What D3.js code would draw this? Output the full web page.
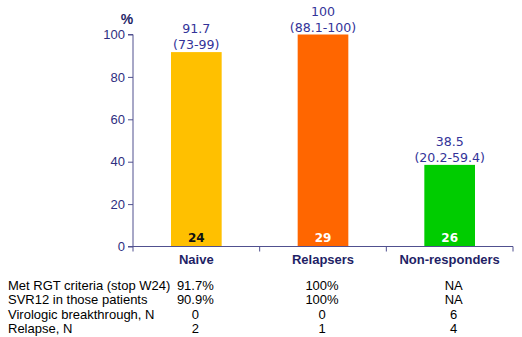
<!DOCTYPE html>
<html><head><meta charset="utf-8">
<script src="https://cdn.jsdelivr.net/npm/d3@7"></script>
<style>body{margin:0;background:#fff}svg{display:block}</style>
</head><body>
<svg id="c" width="522" height="337"></svg>
<script>
const categories = ["Naive", "Relapsers", "Non-responders"];
const values = [91.7, 100, 38.5];
const ciLabels = ["(73-99)", "(88.1-100)", "(20.2-59.4)"];
const valueLabels = ["91.7", "100", "38.5"];
const counts = ["24", "29", "26"];
const colors = ["#FFC000", "#FF6600", "#00CC00"];
const countColors = ["#111111", "#ffffff", "#ffffff"];
const yTicks = [0, 20, 40, 60, 80, 100];
const rowLabels = ["Met RGT criteria (stop W24)", "SVR12 in those patients", "Virologic breakthrough, N", "Relapse, N"];
const rowValues = [
  ["91.7%", "100%", "NA"],
  ["90.9%", "100%", "NA"],
  ["0", "0", "6"],
  ["2", "1", "4"]
];

const svg = d3.select("#c");
const navy = "#2E2E80";
const axisCol = "#50508F";
const x = d3.scaleBand().domain(categories).range([133, 513]).paddingInner(0.6).paddingOuter(0.3);
const y = d3.scaleLinear().domain([0, 100]).range([246.5, 34.5]);

// bars
svg.selectAll("rect.bar").data(categories).join("rect")
  .attr("x", d => x(d)).attr("width", x.bandwidth())
  .attr("y", (d, i) => y(values[i])).attr("height", (d, i) => y(0) - y(values[i]))
  .attr("fill", (d, i) => colors[i]);

// y axis
const ya = svg.append("g").attr("transform", "translate(133,0)")
  .call(d3.axisLeft(y).tickValues(yTicks).tickSize(5).tickPadding(3));
ya.select(".domain").attr("stroke", axisCol).attr("d", `M-5,${y(100)}H0V${y(0)}`);
ya.selectAll(".tick line").attr("stroke", axisCol);
ya.selectAll(".tick text").attr("fill", navy).style("font", "13px 'Liberation Sans', Arial, sans-serif");

// x axis
const xa = svg.append("g").attr("transform", `translate(0,${y(0)})`);
xa.append("line").attr("x1", 128).attr("x2", 513).attr("y1", 0).attr("y2", 0).attr("stroke", axisCol);
const step = x.step();
const bounds = [133, ...categories.map(c => x(c) + x.bandwidth() / 2 + step / 2)];
xa.selectAll("line.t").data(bounds).join("line")
  .attr("x1", d => d).attr("x2", d => d).attr("y1", 0).attr("y2", 5).attr("stroke", axisCol);
xa.selectAll("text").data(categories).join("text")
  .attr("x", d => x(d) + x.bandwidth() / 2).attr("y", 17)
  .attr("text-anchor", "middle").attr("fill", "#1F1F66")
  .style("font", "bold 13px 'Liberation Sans', Arial, sans-serif")
  .text(d => d);

// % label
svg.append("text").attr("x", 127).attr("y", 24).attr("text-anchor", "middle")
  .attr("fill", "#1F1F66").style("font", "bold 14px 'Liberation Sans', Arial, sans-serif").text("%");

// value labels
const vf = "12.6px 'DejaVu Sans', Verdana, sans-serif";
svg.selectAll("text.v").data(categories).join("text")
  .attr("x", d => x(d) + x.bandwidth() / 2).attr("y", (d, i) => y(values[i]) - 19)
  .attr("text-anchor", "middle").attr("fill", "#333399").style("font", vf)
  .text((d, i) => valueLabels[i]);
svg.selectAll("text.ci").data(categories).join("text")
  .attr("x", d => x(d) + x.bandwidth() / 2).attr("y", (d, i) => y(values[i]) - 3)
  .attr("text-anchor", "middle").attr("fill", "#333399").style("font", vf)
  .text((d, i) => ciLabels[i]);

// counts
svg.selectAll("text.n").data(categories).join("text")
  .attr("x", d => x(d) + x.bandwidth() / 2).attr("y", y(0) - 5)
  .attr("text-anchor", "middle").attr("fill", (d, i) => countColors[i])
  .style("font", "bold 12px 'DejaVu Sans', Verdana, sans-serif")
  .text((d, i) => counts[i]);

// table
const tf = "13px 'Liberation Sans', Arial, sans-serif";
const colShift = [-1, -1, 4];
const rowY = d3.scalePoint().domain(rowLabels).range([290, 333]);
svg.selectAll("text.rl").data(rowLabels).join("text")
  .attr("x", 8).attr("y", d => rowY(d)).attr("fill", "#000").style("font", tf).text(d => d);
rowLabels.forEach((r, ri) => {
  svg.selectAll(null).data(categories).join("text")
    .attr("x", (d, i) => x(d) + x.bandwidth() / 2 + colShift[i]).attr("y", rowY(r))
    .attr("text-anchor", "middle").attr("fill", "#000").style("font", tf)
    .text((d, i) => rowValues[ri][i]);
});
</script>
</body></html>
